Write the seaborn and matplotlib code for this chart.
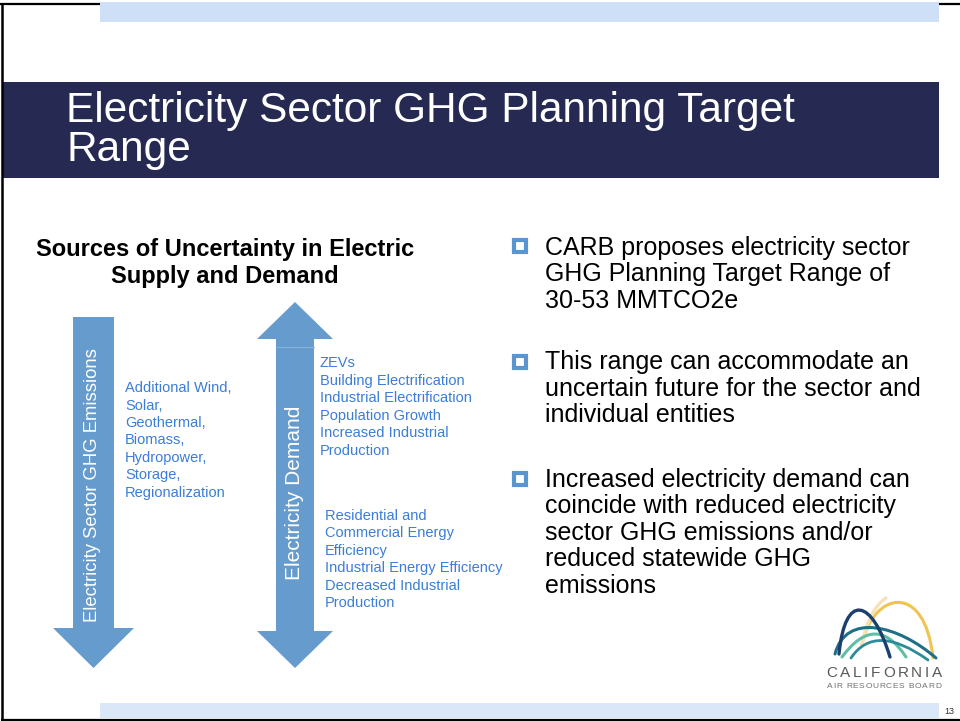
import numpy as np
import matplotlib
matplotlib.use("Agg")
import matplotlib.pyplot as plt
from matplotlib.patches import Polygon, Rectangle, PathPatch
from matplotlib.path import Path
import seaborn as sns

# Slide content
title_lines = ["Electricity Sector GHG Planning Target", "Range"]
subtitle_lines = ["Sources of Uncertainty in Electric", "Supply and Demand"]
arrow_labels = ["Electricity Sector GHG Emissions", "Electricity Demand"]
supply_items = ["Additional Wind,", "Solar,", "Geothermal,", "Biomass,",
                "Hydropower,", "Storage,", "Regionalization"]
demand_up_items = ["ZEVs", "Building Electrification", "Industrial Electrification",
                   "Population Growth", "Increased Industrial", "Production"]
demand_down_items = ["Residential and", "Commercial Energy", "Efficiency",
                     "Industrial Energy Efficiency", "Decreased Industrial", "Production"]
bullet_1 = ["CARB proposes electricity sector", "GHG Planning Target Range of",
            "30-53 MMTCO2e"]
bullet_2 = ["This range can accommodate an", "uncertain future for the sector and",
            "individual entities"]
bullet_3 = ["Increased electricity demand can", "coincide with reduced electricity",
            "sector GHG emissions and/or", "reduced statewide GHG", "emissions"]
logo_name = "CALIFORNIA"
logo_sub = "AIR RESOURCES BOARD"
page_number = "13"

sns.set_theme(style="white")
plt.rcParams["font.family"] = ["Liberation Sans", "DejaVu Sans"]

NAVY = "#262a52"
PALE_TOP = "#cde0f8"
PALE_BOT = "#dae7f9"
ARROW = "#659bcd"
BLUE_TXT = "#3b7dd8"
BULLET = "#5b95cf"

fig = plt.figure(figsize=(9.6, 7.21), dpi=100)
ax = fig.add_axes([0, 0, 1, 1])
ax.set_xlim(0, 960)
ax.set_ylim(721, 0)
ax.axis("off")

# frame and bands
ax.plot([0, 100], [3.5, 3.5], color="black", lw=1.6, solid_capstyle="butt")
ax.plot([939, 960], [3.5, 3.5], color="black", lw=1.6, solid_capstyle="butt")
ax.plot([2, 2], [2.7, 720], color="black", lw=1.8, solid_capstyle="butt")
ax.plot([1, 960], [719.5, 719.5], color="black", lw=1.6, solid_capstyle="butt")
ax.add_patch(Rectangle((100, 2), 839, 20, color=PALE_TOP, lw=0))
ax.add_patch(Rectangle((100, 703), 839, 15, color=PALE_BOT, lw=0))
ax.add_patch(Rectangle((3, 82), 936, 96, color=NAVY, lw=0))

# title
for i, line in enumerate(title_lines):
    ax.text(66, 122 + 39.5 * i, line, color="white", fontsize=30.5,
            va="baseline", ha="left")

# subtitle
for i, line in enumerate(subtitle_lines):
    ax.text(225, 256 + 27 * i, line, color="black", fontsize=17,
            fontweight="bold", va="baseline", ha="center")

# down arrow (emissions)
down = [(73, 317), (114, 317), (114, 628), (134, 628), (93.5, 668),
        (53, 628), (73, 628)]
ax.add_patch(Polygon(down, closed=True, color=ARROW, lw=0))

# double arrow (demand)
both = [(295, 302), (333, 339), (314, 339), (314, 631), (333, 631), (295, 668),
        (257, 631), (276, 631), (276, 339), (257, 339)]
ax.add_patch(Polygon(both, closed=True, color=ARROW, lw=0))
ax.plot([276, 314], [347, 347], color="#86b3de", lw=0.8)

ax.text(93, 485, arrow_labels[0], rotation=90, color="white", fontsize=13.3,
        ha="center", va="center")
ax.text(295, 493, arrow_labels[1], rotation=90, color="white", fontsize=15,
        ha="center", va="center")

# blue lists
for i, item in enumerate(supply_items):
    ax.text(125, 392 + 17.5 * i, item, color=BLUE_TXT, fontsize=10.5, va="baseline")
for i, item in enumerate(demand_up_items):
    ax.text(320, 367 + 17.6 * i, item, color=BLUE_TXT, fontsize=10.5, va="baseline")
for i, item in enumerate(demand_down_items):
    ax.text(325, 520 + 17.4 * i, item, color=BLUE_TXT, fontsize=10.5, va="baseline")

# bullets
for lines, y0, ym in [(bullet_1, 255, 246), (bullet_2, 369, 361.5),
                      (bullet_3, 487, 479)]:
    ax.plot(520, ym, marker="s", ms=9.0, mew=3.0, mfc="white", mec=BULLET)
    for i, line in enumerate(lines):
        ax.text(545, y0 + 26.5 * i, line, color="black", fontsize=18, va="baseline")


# logo arcs
def bez(pts, color, lw=2.3, alpha=1.0):
    codes = [Path.MOVETO] + [Path.CURVE4] * 3 if len(pts) == 4 else \
            [Path.MOVETO] + [Path.CURVE3] * 2
    ax.add_patch(PathPatch(Path(pts, codes), fill=False, edgecolor=color,
                           lw=lw, alpha=alpha, capstyle="round"))


bez([(862, 645), (872, 592), (925, 580), (933, 658)], "#f0c452", lw=2.2)
bez([(862, 645), (866, 622), (875, 605), (886, 598)], "#f5e3b8", lw=2.4)
bez([(835, 654), (846, 612), (898, 625), (936, 658)], "#1f6f88", lw=2.2)
bez([(842, 657), (876, 611), (906, 657)], "#5fbfa6", lw=2.2)
bez([(851, 658), (875, 622), (928, 660)], "#2c8c99", lw=2.0)
bez([(839, 654), (845, 592), (872, 598), (890, 657)], "#1d3f6e", lw=2.4)

# letter-spaced logo text: advance by each glyph's width plus tracking
renderer = fig.canvas.get_renderer()


def spaced(s, x0, x1, y, size, color):
    arts = [ax.text(0, y, ch, color=color, fontsize=size, ha="left", va="baseline")
            for ch in s]
    widths = [a.get_window_extent(renderer).width if ch != " " else size * 0.35
              for a, ch in zip(arts, s)]
    track = (x1 - x0 - sum(widths)) / (len(s) - 1)
    x = x0
    for a, w in zip(arts, widths):
        a.set_x(x)
        x += w + track


spaced(logo_name, 826, 942, 677, 11, "#595959")
spaced(logo_sub, 827, 941, 687.5, 6, "#707070")

ax.text(949, 714, page_number, color="#333333", fontsize=6.5, ha="center",
        va="baseline")

fig.savefig("out.png", dpi=100)
